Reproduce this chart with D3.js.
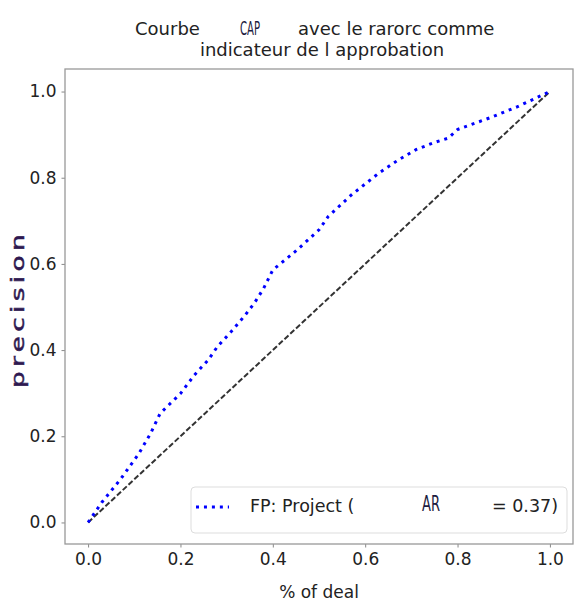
<!DOCTYPE html>
<html>
<head>
<meta charset="utf-8">
<script src="https://cdn.jsdelivr.net/npm/d3@7"></script>
<style>
  body { margin: 0; background: #fff; }
  text { font-family: "DejaVu Sans", sans-serif; fill: #222; }
</style>
</head>
<body>
<div id="chart"></div>
<script>
// CAP curve points
const dealShare = [0, 0.03, 0.07, 0.11, 0.135, 0.156, 0.2, 0.23, 0.26, 0.28, 0.31, 0.34, 0.36, 0.38, 0.40,
                   0.45, 0.50, 0.52, 0.57, 0.63, 0.67, 0.71, 0.75, 0.78, 0.80, 0.87, 0.93, 1.0];
const precision = [0, 0.047, 0.10, 0.16, 0.206, 0.253, 0.299, 0.342, 0.377, 0.408, 0.443, 0.481, 0.509, 0.543, 0.586,
                   0.63, 0.679, 0.71, 0.76, 0.811, 0.84, 0.865, 0.882, 0.892, 0.912, 0.939, 0.965, 1.0];
// random-model diagonal
const diagX = [0, 1];
const diagY = [0, 1];
const tickVals = [0, 0.2, 0.4, 0.6, 0.8, 1.0];

const width = 574, height = 603;
const margin = {left: 65, right: 573, top: 70, bottom: 544};

const svg = d3.select("#chart")
  .append("svg")
  .attr("width", width)
  .attr("height", height);

const x = d3.scaleLinear().domain([-0.05, 1.05]).range([margin.left, margin.right]);
const y = d3.scaleLinear().domain([-0.05, 1.05]).range([margin.bottom, margin.top]);

// axes
const xAxis = svg.append("g")
  .attr("transform", `translate(0,${margin.bottom})`)
  .call(d3.axisBottom(x).tickValues(tickVals).tickFormat(d3.format(".1f")).tickSize(3.5).tickPadding(5));
const yAxis = svg.append("g")
  .attr("transform", `translate(${margin.left},0)`)
  .call(d3.axisLeft(y).tickValues(tickVals).tickFormat(d3.format(".1f")).tickSize(3.5).tickPadding(5));

[xAxis, yAxis].forEach(a => {
  a.select(".domain").remove();
  a.selectAll(".tick line").attr("stroke", "#888");
  a.selectAll("text").style("font-size", "17px").attr("fill", "#222");
});

// spines
svg.append("rect")
  .attr("x", margin.left)
  .attr("y", margin.top - 1)
  .attr("width", margin.right - margin.left)
  .attr("height", margin.bottom - margin.top + 1)
  .attr("fill", "none")
  .attr("stroke", "#999")
  .attr("stroke-width", 1.3);

// diagonal
const diag = diagX.map((d, i) => ({x: d, y: diagY[i]}));
svg.append("path")
  .datum(diag)
  .attr("fill", "none")
  .attr("stroke", "#333")
  .attr("stroke-width", 2)
  .attr("stroke-dasharray", "5.5,2.4")
  .attr("d", d3.line().x(d => x(d.x)).y(d => y(d.y)));

// CAP curve
const cap = dealShare.map((d, i) => ({x: d, y: precision[i]}));
svg.append("path")
  .datum(cap)
  .attr("fill", "none")
  .attr("stroke", "#0000ff")
  .attr("stroke-width", 3)
  .attr("stroke-dasharray", "3,4.95")
  .attr("d", d3.line().x(d => x(d.x)).y(d => y(d.y)));

// title
const title = svg.append("g").style("font-size", "18px");
title.append("text").attr("x", 135).attr("y", 35).text("Courbe");
title.append("text").attr("x", 240).attr("y", 34.5)
  .style("font-size", "19px").style("fill", "#1c1c40")
  .attr("textLength", 20).attr("lengthAdjust", "spacingAndGlyphs").text("CAP");
title.append("text").attr("x", 298).attr("y", 35).text("avec le rarorc comme");
title.append("text").attr("x", (margin.left + margin.right) / 2 + 3).attr("y", 56)
  .attr("text-anchor", "middle").text("indicateur de l approbation");

// axis labels
svg.append("text")
  .attr("x", (margin.left + margin.right) / 2)
  .attr("y", 598)
  .attr("text-anchor", "middle")
  .style("font-size", "17px")
  .text("% of deal");

svg.append("text")
  .attr("transform", "translate(24,309) rotate(-90)")
  .attr("text-anchor", "middle")
  .attr("textLength", 158)
  .attr("lengthAdjust", "spacingAndGlyphs")
  .style("font-size", "18px")
  .style("letter-spacing", "3px")
  .style("fill", "#2e1850")
  .style("stroke", "#2e1850")
  .style("stroke-width", 0.5)
  .text("precision");

// legend
const legend = svg.append("g");
legend.append("rect")
  .attr("x", 191)
  .attr("y", 487)
  .attr("width", 376)
  .attr("height", 46)
  .attr("rx", 4)
  .attr("fill", "#fff")
  .attr("stroke", "#ddd");
legend.append("line")
  .attr("x1", 196).attr("x2", 229)
  .attr("y1", 507).attr("y2", 507)
  .attr("stroke", "#0000ff")
  .attr("stroke-width", 3)
  .attr("stroke-dasharray", "3,4.95");
legend.append("text").attr("x", 250).attr("y", 512).style("font-size", "17.5px").text("FP: Project (");
legend.append("text").attr("x", 422).attr("y", 511).style("font-size", "22px").style("fill", "#1c1c40")
  .attr("textLength", 18).attr("lengthAdjust", "spacingAndGlyphs").text("AR");
legend.append("text").attr("x", 492).attr("y", 512).style("font-size", "17.5px").text("= 0.37)");
</script>
</body>
</html>
